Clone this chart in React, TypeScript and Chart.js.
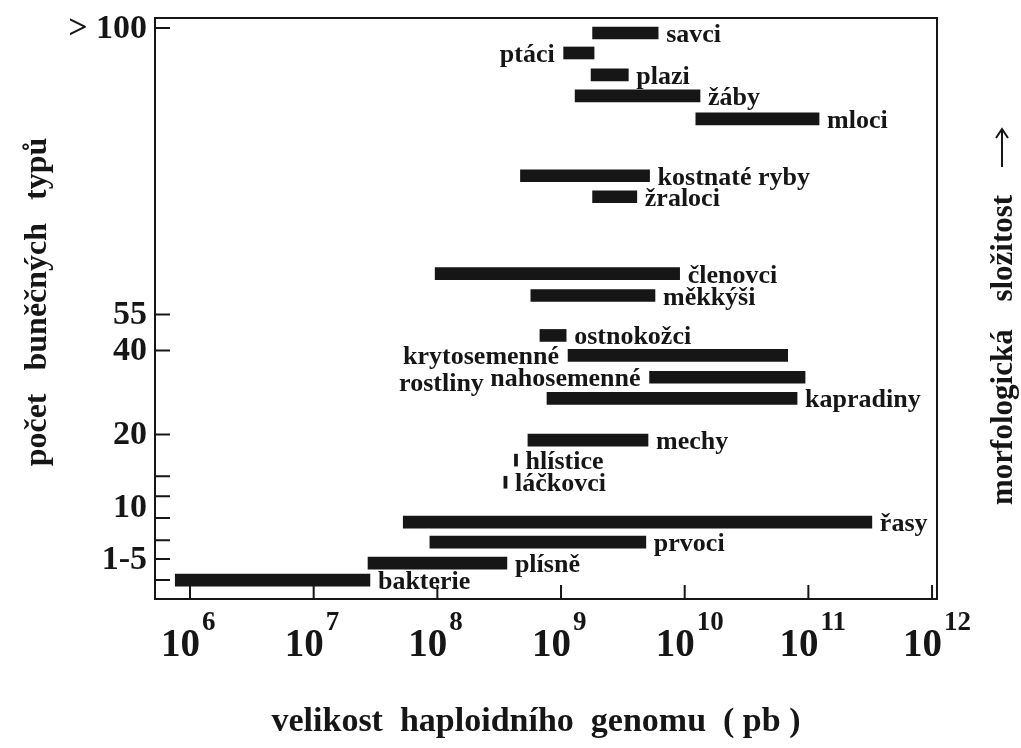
import React, { useEffect, useRef } from 'react';
import { Chart, registerables } from 'chart.js';

Chart.register(...registerables);

// ---- data ----
const groups = [
  'savci', 'ptáci', 'plazi', 'žáby', 'mloci', 'kostnaté ryby', 'žraloci',
  'členovci', 'měkkýši', 'ostnokožci', 'krytosemenné\nrostliny', 'nahosemenné',
  'kapradiny', 'mechy', 'hlístice', 'láčkovci', 'řasy', 'prvoci', 'plísně', 'bakterie',
];
// haploid genome size range (bp)
const genomeMin = [
  1.8e9, 1.05e9, 1.75e9, 1.3e9, 1.23e10, 4.7e8, 1.8e9,
  9.6e7, 5.7e8, 6.75e8, 1.14e9, 5.2e9,
  7.7e8, 5.4e8, 4.2e8, 3.45e8, 5.3e7, 8.7e7, 2.75e7, 7.6e5,
];
const genomeMax = [
  6.1e9, 1.85e9, 3.5e9, 1.33e10, 1.22e11, 5.2e9, 4.1e9,
  9.1e9, 5.75e9, 1.1e9, 6.8e10, 9.4e10,
  8.1e10, 5.05e9, 4.45e8, 3.66e8, 3.26e11, 4.85e9, 3.65e8, 2.85e7,
];
// position on the morphological-complexity axis
const complexity = [
  26.37, 25.44, 24.42, 23.44, 22.37, 19.72, 18.74,
  15.16, 14.14, 12.28, 11.35, 10.33,
  9.35, 7.40, 6.47, 5.44, 3.58, 2.65, 1.67, 0.88,
];
const labelSide = [
  'right', 'left', 'right', 'right', 'right', 'right', 'right',
  'right', 'right', 'right', 'left', 'left',
  'right', 'right', 'right', 'right', 'right', 'right', 'right', 'right',
];
const xTickExponents = [6, 7, 8, 9, 10, 11, 12];
const yTickLevels = [26.6, 13.26, 11.58, 7.67, 5.72, 4.79, 4.28, 3.77, 2.74, 1.86, 0.88];
const yTickLabels = ['> 100', '55', '40', '20', '', '', '10', '', '', '1-5', ''];
const yTickMarked = [true, true, true, true, true, true, false, true, true, true, true];

const xTitle = 'velikost  haploidního  genomu  ( pb )';
const yTitle = 'počet buněčných typů';
const rightTitle = 'morfologická složitost';

const FONT = '"Liberation Serif", "Times New Roman", serif';
const INK = '#161616';

const overlay = {
  id: 'overlay',
  afterDraw(chart: any) {
    const ctx = chart.ctx as CanvasRenderingContext2D;
    const { left, right, top, bottom } = chart.chartArea;
    const xs = chart.scales.x;
    const ys = chart.scales.y;
    ctx.save();
    ctx.strokeStyle = INK;
    ctx.fillStyle = INK;

    // frame
    ctx.lineWidth = 2;
    ctx.strokeRect(left, top, right - left, bottom - top);

    // inward ticks
    ctx.beginPath();
    xTickExponents.forEach((e) => {
      const px = xs.getPixelForValue(Math.pow(10, e));
      ctx.moveTo(px, bottom);
      ctx.lineTo(px, bottom - 14);
    });
    yTickLevels.forEach((v, i) => {
      if (!yTickMarked[i]) return;
      const py = ys.getPixelForValue(v);
      ctx.moveTo(left, py);
      ctx.lineTo(left + 15, py);
    });
    ctx.stroke();

    // y tick labels
    ctx.font = `bold 34px ${FONT}`;
    ctx.textAlign = 'right';
    ctx.textBaseline = 'middle';
    yTickLevels.forEach((v, i) => {
      if (!yTickLabels[i]) return;
      ctx.fillText(yTickLabels[i], left - 8, ys.getPixelForValue(v) + 1);
    });

    // x tick labels with superscripts
    xTickExponents.forEach((e) => {
      const px = xs.getPixelForValue(Math.pow(10, e));
      ctx.font = `bold 39px ${FONT}`;
      ctx.textAlign = 'right';
      ctx.textBaseline = 'alphabetic';
      ctx.fillText('10', px + 10, 656);
      ctx.font = `bold 27px ${FONT}`;
      ctx.textAlign = 'left';
      ctx.fillText(String(e), px + 12, 630);
    });

    // bar labels
    const meta = chart.getDatasetMeta(0);
    ctx.font = `bold 26px ${FONT}`;
    ctx.textBaseline = 'alphabetic';
    meta.data.forEach((bar: any, i: number) => {
      const p = bar.getProps(['x', 'base', 'y'], true);
      const x0 = Math.min(p.x, p.base);
      const x1 = Math.max(p.x, p.base);
      const lines = groups[i].split('\n');
      const y = p.y + 9;
      ctx.textAlign = 'left';
      if (labelSide[i] === 'right') {
        ctx.fillText(lines[0], x1 + 8, y);
      } else {
        const w = ctx.measureText(lines[0]).width;
        const lx = x0 - 9 - w;
        lines.forEach((ln, k) => ctx.fillText(ln, lx - k * 4, y + k * 27));
      }
    });

    // bottom title
    ctx.font = `bold 34px ${FONT}`;
    ctx.textAlign = 'center';
    ctx.textBaseline = 'middle';
    ctx.fillText(xTitle, 536, 722);

    // left title
    ctx.save();
    ctx.translate(38, 302);
    ctx.rotate(-Math.PI / 2);
    (ctx as any).wordSpacing = '15px';
    ctx.font = `bold 32px ${FONT}`;
    ctx.textAlign = 'center';
    ctx.fillText(yTitle, 0, 0);
    ctx.restore();

    // right title with arrow
    ctx.save();
    ctx.translate(1004, 505);
    ctx.rotate(-Math.PI / 2);
    (ctx as any).wordSpacing = '20px';
    ctx.font = `bold 31px ${FONT}`;
    ctx.textAlign = 'left';
    ctx.textBaseline = 'middle';
    ctx.fillText(rightTitle, 0, 0);
    const tw = ctx.measureText(rightTitle).width;
    const a0 = Math.max(tw + 16, 338);
    const a1 = 376;
    ctx.lineWidth = 2;
    ctx.beginPath();
    ctx.moveTo(a0, -2);
    ctx.lineTo(a1, -2);
    ctx.moveTo(a1 - 9, -8);
    ctx.lineTo(a1, -2);
    ctx.lineTo(a1 - 9, 4);
    ctx.stroke();
    ctx.restore();

    (ctx as any).wordSpacing = '0px';
    ctx.restore();
  },
};

export default function App() {
  const ref = useRef<HTMLCanvasElement | null>(null);
  useEffect(() => {
    if (!ref.current) return;
    const chart = new Chart(ref.current, {
      type: 'bar',
      data: {
        labels: groups,
        datasets: [
          {
            data: groups.map((_, i) => ({ x: [genomeMin[i], genomeMax[i]], y: complexity[i] })) as any,
            backgroundColor: INK,
            borderWidth: 0,
            borderSkipped: false,
            barThickness: 12,
          },
        ],
      },
      options: {
        indexAxis: 'y',
        responsive: false,
        animation: false,
        devicePixelRatio: 1,
        layout: { padding: { top: 18, right: 84, left: 0, bottom: 0 } },
        plugins: { legend: { display: false }, tooltip: { enabled: false }, title: { display: false } },
        scales: {
          x: {
            type: 'logarithmic',
            min: Math.pow(10, 5.717),
            max: Math.pow(10, 12.04),
            offset: false,
            ticks: { display: false },
            grid: { display: false },
            border: { display: false },
            afterBuildTicks: (s: any) => {
              s.ticks = xTickExponents.map((e) => ({ value: Math.pow(10, e) }));
            },
            afterFit: (s: any) => {
              s.height = 149;
            },
          },
          y: {
            type: 'linear',
            min: 0,
            max: 27.07,
            offset: false,
            ticks: { display: false },
            grid: { display: false },
            border: { display: false },
            afterBuildTicks: (s: any) => {
              s.ticks = yTickLevels.map((v) => ({ value: v }));
            },
            afterFit: (s: any) => {
              s.width = 155;
            },
          },
        },
      },
      plugins: [overlay],
    } as any);
    return () => chart.destroy();
  }, []);
  return (
    <div style={{ position: 'absolute', left: 0, top: 0, width: 1021, height: 748, background: '#fff' }}>
      <canvas ref={ref} width={1021} height={748} style={{ display: 'block' }} />
    </div>
  );
}
